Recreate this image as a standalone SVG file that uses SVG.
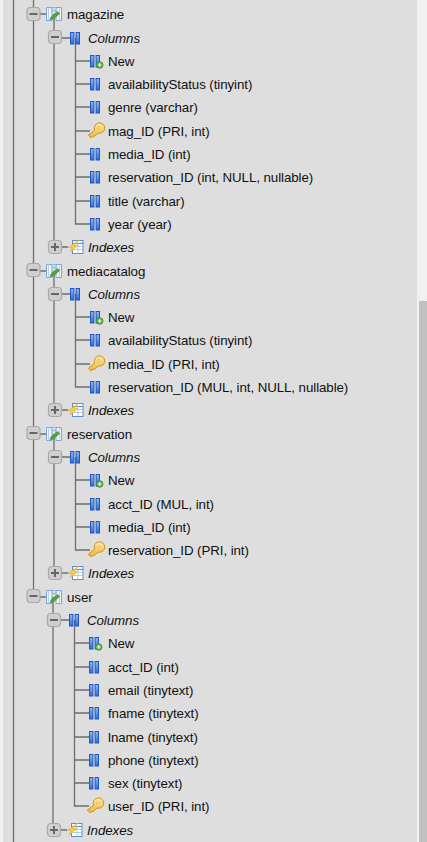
<svg xmlns="http://www.w3.org/2000/svg" width="427" height="842" viewBox="0 0 427 842">
<style>
text{font-family:"Liberation Sans",Arial,sans-serif;font-size:13.33px;letter-spacing:-.085px;fill:#111}
.i{font-style:italic}
.c line,.c path{stroke:#6e6e6e;stroke-width:1.3;fill:none}
</style>
<defs>
<linearGradient id="b" x1="0" y1="0" x2="0" y2="1"><stop offset="0" stop-color="#8fb9ee"/><stop offset="1" stop-color="#2f6cd8"/></linearGradient>
<linearGradient id="k" x1="0" y1="0" x2="0" y2="1"><stop offset="0" stop-color="#ffe9a0"/><stop offset="1" stop-color="#eeb63a"/></linearGradient>
<g id="minus"><rect x="-6.500" y="-6.500" width="13" height="13" rx="3" fill="#cfcfcf" stroke="#a9a9a9" stroke-width="1.200"/><rect x="-4" y="-1" width="8" height="2" fill="#666"/></g>
<g id="plus"><use href="#minus"/><rect x="-1" y="-4" width="2" height="8" fill="#666"/></g>
<g id="col"><rect x="0.500" y="0.500" width="3.400" height="11.500" fill="url(#b)" stroke="#1f57c4"/><rect x="6.100" y="0.500" width="3.400" height="11.500" fill="url(#b)" stroke="#1f57c4"/></g>
<g id="new"><use href="#col"/><circle cx="9.700" cy="10" r="3.300" fill="#5fae4c" stroke="#3d8a30" stroke-width=".8"/><path d="M7.900 10h3.600M9.700 8.200v3.600" stroke="#fff" stroke-width="1.200"/></g>
<g id="key"><path d="M.8 12.300l6.400-5.200a5.200 5.200 0 1 1 3.500 3L6.500 13.500l-1-.3-1 1.300-1.700-.2-.7-1.200z" fill="url(#k)" stroke="#cf9020" stroke-width="1"/><circle cx="11.200" cy="4.800" r="1.100" fill="#fff6d0" stroke="#cf9020" stroke-width=".5"/></g>
<g id="tbl"><path d="M.5.500h5.500v13H.5zM10 .500h5.500v13H10z" fill="#eef4fb" stroke="#7ba6da"/><path d="M2.500.5v13M13.500.5v13" stroke="#a8c6ea" stroke-width=".8"/><path d="M6 .500h4v3H6z" fill="#cfe0f4" stroke="#7ba6da" stroke-width=".7"/><path d="M4 12.500l1-2.500 6.500-5.500 2.200 2-6.500 5.500z" fill="#56a23f" stroke="#3b7f2a" stroke-width=".6"/></g>
<g id="idx"><rect x="4.500" y=".5" width="10.500" height="13" fill="#fff" stroke="#5c8fc8"/><path d="M4.500 3.500h10.500" stroke="#5c8fc8" stroke-width="1.200"/><path d="M4.500 6.500h10.500M4.500 9.500h10.500M10 3v10.500" stroke="#9fc0e2" stroke-width=".8"/><path d="M11 0L0 7.500h4L2 12l8-6.500H6.500z" fill="#f5cc50" stroke="#e0b030" stroke-width=".6"/></g>
</defs>
<rect width="427" height="842" fill="#f1f1f1"/>
<rect x="3" width="414" height="842" fill="#dedede"/>
<rect x="419" y="301" width="8" height="541" fill="#c1c1c1"/>
<g id="connectors" class="c">
<line x1="13.500" y1="0" x2="13.500" y2="842"/>
<line x1="33.500" y1="0" x2="33.500" y2="597"/>
<path d="M54 14V247M54 271V410M54 434V573M53 597V830"/>
<path d="M40 14h6M40 271h6M40 434h6M40 597h6"/>
<path d="M61 38h9M61 294h9M61 457h9M60 620h9M61 247h7M61 410h7M61 573h7M60 830h7"/>
<path d="M75.500 38V224H90M75.500 61H90M75.500 84H90M75.500 107H90M75.500 131H90M75.500 154H90M75.500 177H90M75.500 201H90"/>
<path d="M75.500 294V387H90M75.500 317H90M75.500 340H90M75.500 364H90"/>
<path d="M75.500 457V550H90M75.500 480H90M75.500 504H90M75.500 527H90"/>
<path d="M74.500 620V806H89M74.500 643H89M74.500 667H89M74.500 690H89M74.500 713H89M74.500 737H89M74.500 760H89M74.500 783H89"/>
</g>
<g id="magazine"><use href="#minus" x="33.500" y="14"/><use href="#tbl" x="46" y="7"/><text x="67" y="19">magazine</text></g>
<g id="magazine-columns"><use href="#minus" x="55" y="37"/><use href="#col" x="70" y="32"/><text class="i" x="88" y="43">Columns</text></g>
<g id="m1"><use href="#new" x="90" y="55"/><text x="108" y="66">New</text></g>
<g id="m2"><use href="#col" x="90" y="78"/><text x="108" y="89">availabilityStatus (tinyint)</text></g>
<g id="m3"><use href="#col" x="90" y="101"/><text x="108" y="112">genre (varchar)</text></g>
<g id="m4"><use href="#key" x="87.500" y="123"/><text x="108" y="136">mag_ID (PRI, int)</text></g>
<g id="m5"><use href="#col" x="90" y="148"/><text x="108" y="159">media_ID (int)</text></g>
<g id="m6"><use href="#col" x="90" y="171"/><text x="108" y="182">reservation_ID (int, NULL, nullable)</text></g>
<g id="m7"><use href="#col" x="90" y="195"/><text x="108" y="206">title (varchar)</text></g>
<g id="m8"><use href="#col" x="90" y="218"/><text x="108" y="229">year (year)</text></g>
<g id="magazine-indexes"><use href="#plus" x="55" y="247"/><use href="#idx" x="68" y="240"/><text class="i" x="88" y="252">Indexes</text></g>
<g id="mediacatalog"><use href="#minus" x="33.500" y="270"/><use href="#tbl" x="46" y="264"/><text x="67" y="276">mediacatalog</text></g>
<g id="mediacatalog-columns"><use href="#minus" x="55" y="294"/><use href="#col" x="70" y="288"/><text class="i" x="88" y="299">Columns</text></g>
<g id="c1"><use href="#new" x="90" y="311"/><text x="108" y="322">New</text></g>
<g id="c2"><use href="#col" x="90" y="334"/><text x="108" y="345">availabilityStatus (tinyint)</text></g>
<g id="c3"><use href="#key" x="87.500" y="356"/><text x="108" y="369">media_ID (PRI, int)</text></g>
<g id="c4"><use href="#col" x="90" y="381"/><text x="108" y="392">reservation_ID (MUL, int, NULL, nullable)</text></g>
<g id="mediacatalog-indexes"><use href="#plus" x="55" y="410"/><use href="#idx" x="68" y="403"/><text class="i" x="88" y="415">Indexes</text></g>
<g id="reservation"><use href="#minus" x="33.500" y="433"/><use href="#tbl" x="46" y="427"/><text x="67" y="439">reservation</text></g>
<g id="reservation-columns"><use href="#minus" x="55" y="457"/><use href="#col" x="70" y="451"/><text class="i" x="88" y="462">Columns</text></g>
<g id="r1"><use href="#new" x="90" y="474"/><text x="108" y="485">New</text></g>
<g id="r2"><use href="#col" x="90" y="498"/><text x="108" y="509">acct_ID (MUL, int)</text></g>
<g id="r3"><use href="#col" x="90" y="521"/><text x="108" y="532">media_ID (int)</text></g>
<g id="r4"><use href="#key" x="87.500" y="542"/><text x="108" y="555">reservation_ID (PRI, int)</text></g>
<g id="reservation-indexes"><use href="#plus" x="55" y="573"/><use href="#idx" x="68" y="566"/><text class="i" x="88" y="578">Indexes</text></g>
<g id="user"><use href="#minus" x="33.500" y="596"/><use href="#tbl" x="46" y="590"/><text x="67" y="602">user</text></g>
<g id="user-columns"><use href="#minus" x="54" y="620"/><use href="#col" x="69" y="614"/><text class="i" x="87" y="625">Columns</text></g>
<g id="u1"><use href="#new" x="89" y="637"/><text x="108" y="648">New</text></g>
<g id="u2"><use href="#col" x="89" y="661"/><text x="108" y="672">acct_ID (int)</text></g>
<g id="u3"><use href="#col" x="89" y="684"/><text x="108" y="695">email (tinytext)</text></g>
<g id="u4"><use href="#col" x="89" y="707"/><text x="108" y="718">fname (tinytext)</text></g>
<g id="u5"><use href="#col" x="89" y="731"/><text x="108" y="742">lname (tinytext)</text></g>
<g id="u6"><use href="#col" x="89" y="754"/><text x="108" y="765">phone (tinytext)</text></g>
<g id="u7"><use href="#col" x="89" y="777"/><text x="108" y="788">sex (tinytext)</text></g>
<g id="u8"><use href="#key" x="86.500" y="798"/><text x="108" y="811">user_ID (PRI, int)</text></g>
<g id="user-indexes"><use href="#plus" x="54" y="830"/><use href="#idx" x="67" y="823"/><text class="i" x="87" y="835">Indexes</text></g>
</svg>
